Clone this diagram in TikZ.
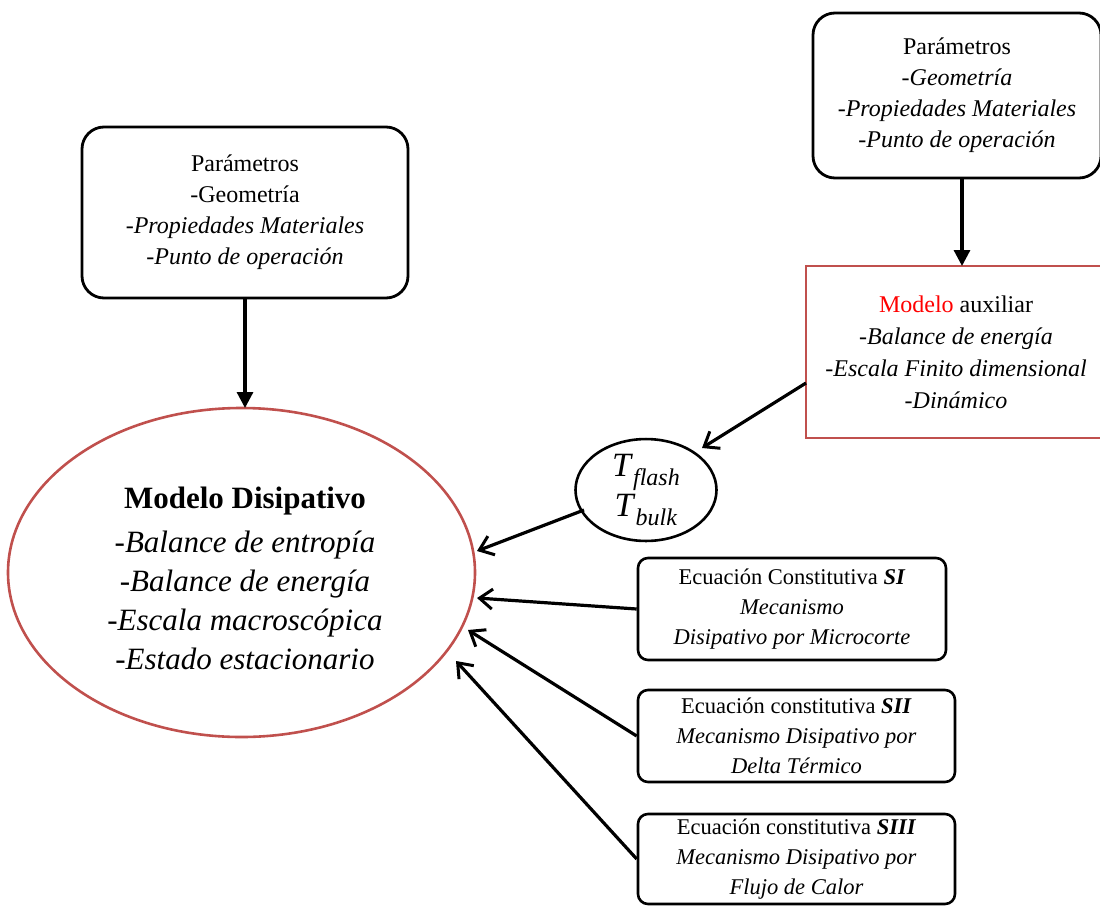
\documentclass[tikz,border=0pt]{standalone}
\usepackage{fontspec}
\setmainfont{Liberation Serif}
\usetikzlibrary{arrows.meta,shapes.geometric}
\definecolor{boxred}{RGB}{192,80,77}
\newcommand{\tsub}[2]{\textit{#1}\raisebox{-0.28em}{\fontsize{24}{24}\selectfont\textit{#2}}}
\begin{document}
\begin{tikzpicture}[x=1pt,y=-1pt,
  rbox/.style={draw=black,line width=2.8pt,rounded corners=22pt,align=center,inner sep=0pt},
  ebox/.style={draw=black,line width=2.6pt,rounded corners=10pt,align=center,inner sep=0pt},
  conn/.style={line width=3.2pt,-{Straight Barb[length=13pt,width=20pt,line width=3pt]}},
  vconn/.style={line width=3.2pt,-{Triangle[length=16pt,width=16pt]}},
  par/.style={font=\fontsize{24}{31}\selectfont},
  eq/.style={font=\fontsize{22.5}{30}\selectfont}]
\useasboundingbox (0,0) rectangle (1100,905);

\node[rbox,par,minimum width=326pt,minimum height=171pt] (p1) at (245,212.5)
  {Parámetros\\-Geometría\\\textit{-Propiedades Materiales}\\\textit{-Punto de operación}};

\node[rbox,par,minimum width=288pt,minimum height=165pt] (p2) at (957,95.5)
  {Parámetros\\\textit{-Geometría}\\\textit{-Propiedades Materiales}\\\textit{-Punto de operación}};

\node[draw=boxred,line width=2.6pt,align=center,inner sep=0pt,minimum width=300pt,minimum height=172pt,
  font=\fontsize{24}{32}\selectfont] (aux) at (956,352)
  {\textcolor{red}{Modelo} auxiliar\\\textit{-Balance de energía}\\\textit{-Escala Finito dimensional}\\\textit{-Dinámico}};

\node[draw=black,line width=2.6pt,ellipse,minimum width=141pt,minimum height=100pt,inner sep=0pt,align=center,
  font=\fontsize{34}{40}\selectfont] (tf) at (646,490)
  {\tsub{T}{flash}\\\tsub{T}{bulk}};

\node[draw=boxred,line width=2.6pt,ellipse,minimum width=467pt,minimum height=329pt,inner sep=0pt] (md) at (241.5,572.5) {};
\node[align=center,font=\fontsize{31}{39}\selectfont] (mdt) at (245,578)
  {\textbf{Modelo Disipativo}\\[5pt]\textit{-Balance de entropía}\\\textit{-Balance de energía}\\\textit{-Escala macroscópica}\\\textit{-Estado estacionario}};

\node[ebox,eq,minimum width=308pt,minimum height=102pt] (s1) at (792,609)
  {Ecuación Constitutiva \textbf{\textit{SI}}\\\textit{Mecanismo}\\\textit{Disipativo por Microcorte}};
\node[ebox,eq,minimum width=317pt,minimum height=92pt] (s2) at (796.5,736)
  {Ecuación constitutiva \textbf{\textit{SII}}\\\textit{Mecanismo Disipativo por}\\\textit{Delta Térmico}};
\node[ebox,eq,minimum width=317pt,minimum height=90pt] (s3) at (796.5,859)
  {Ecuación constitutiva \textbf{\textit{SIII}}\\\textit{Mecanismo Disipativo por}\\\textit{Flujo de Calor}};

\coordinate (mdtop) at (245,408);
\coordinate (p2s) at (962,178);
\coordinate (auxn) at (962,266);
\coordinate (axw) at (806,383);
\coordinate (tfne) at (702,448);
\coordinate (tfsw) at (584,510);
\coordinate (mde1) at (477,551);
\coordinate (mde2) at (477,598);
\coordinate (mde3) at (468,630);
\coordinate (mde4) at (456,661);

\draw[vconn] (p1.south) -- (mdtop);
\draw[vconn] (p2s) -- (auxn);
\draw[conn] (axw) -- (tfne);
\draw[conn] (tfsw) -- (mde1);
\draw[conn] (s1.west) -- (mde2);
\draw[conn] (s2.west) -- (mde3);
\draw[conn] (s3.west) -- (mde4);
\end{tikzpicture}
\end{document}
